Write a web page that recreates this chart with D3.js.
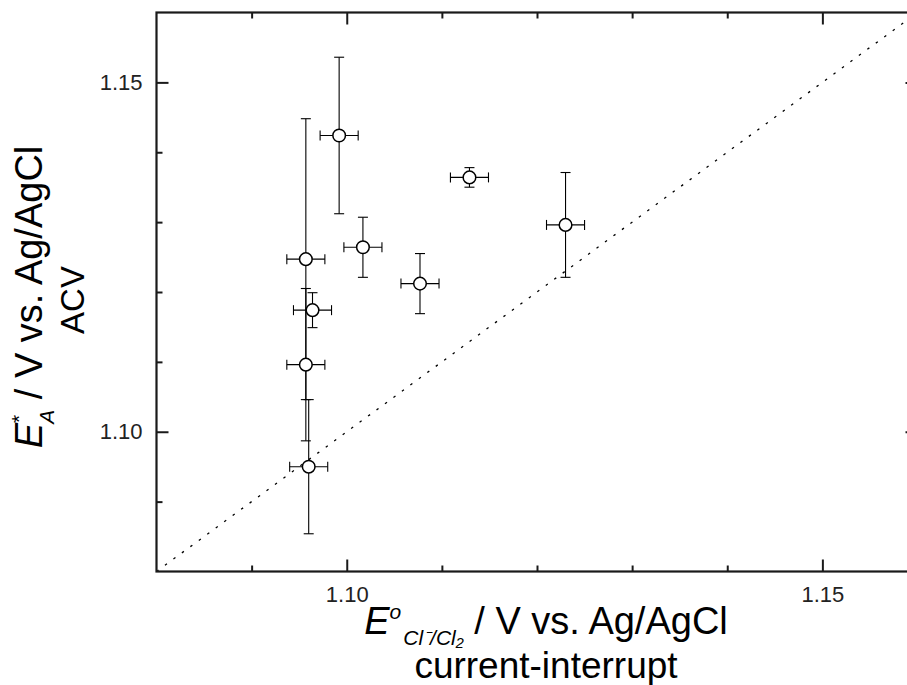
<!DOCTYPE html>
<html>
<head>
<meta charset="utf-8">
<script src="https://cdn.jsdelivr.net/npm/d3@7"></script>
<style>
  body { margin: 0; background: #fff; }
  svg { display: block; font-family: "Liberation Sans", Arial, sans-serif; }
</style>
</head>
<body>
<svg id="chart" width="907" height="685"></svg>
<script>
// ---- data ----
const xValues = [1.0992, 1.0957, 1.0957, 1.0960, 1.0964, 1.1017, 1.1077, 1.1129, 1.1230];
const yValues = [1.1424, 1.1247, 1.1096, 1.0950, 1.1174, 1.1264, 1.1212, 1.1364, 1.1296];
const yErrors = [0.0112, 0.0201, 0.0109, 0.0096, 0.0025, 0.0043, 0.0043, 0.0014, 0.0075];
const xErrors = [0.0020, 0.0020, 0.0020, 0.0020, 0.0020, 0.0020, 0.0020, 0.0020, 0.0020];
const axisDomain = [1.08, 1.16];
const majorTicks = [1.10, 1.15];
const minorTicks = [1.09, 1.11, 1.12, 1.13, 1.14];
const diagonal = [1.08, 1.16];

const points = xValues.map((v, i) => ({x: v, y: yValues[i], ex: xErrors[i], ey: yErrors[i]}));

const svg = d3.select("#chart");
const pL = 156.5, pR = 917.5, pT = 12.5, pB = 571.5;
const x = d3.scaleLinear().domain(axisDomain).range([pL, pR]);
const y = d3.scaleLinear().domain(axisDomain).range([pB, pT]);
const ink = "#1a1a1a";

// diagonal y = x
svg.append("line")
  .attr("x1", x(diagonal[0])).attr("y1", y(diagonal[0]))
  .attr("x2", x(diagonal[1])).attr("y2", y(diagonal[1]))
  .attr("stroke", "#000").attr("stroke-width", 1.3)
  .attr("stroke-dasharray", "2.5,8");

// axes
function styleAxis(g) {
  g.select(".domain").remove();
  g.selectAll(".tick line").attr("stroke", ink).attr("stroke-width", 2);
  g.selectAll(".tick text").attr("fill", "#222").style("font-size", "22px")
    .style("font-family", '"Liberation Sans", Arial, sans-serif');
}
const fmt = d3.format(".2f");
// bottom
svg.append("g").attr("transform", `translate(0,${pB})`)
  .call(d3.axisBottom(x).tickValues(majorTicks).tickFormat(fmt).tickSizeInner(-12).tickSizeOuter(0).tickPadding(15))
  .call(styleAxis);
svg.append("g").attr("transform", `translate(0,${pB})`)
  .call(d3.axisBottom(x).tickValues(minorTicks).tickFormat("").tickSizeInner(-6).tickSizeOuter(0))
  .call(styleAxis);
// top
svg.append("g").attr("transform", `translate(0,${pT})`)
  .call(d3.axisTop(x).tickValues(majorTicks).tickFormat("").tickSizeInner(-12).tickSizeOuter(0))
  .call(styleAxis);
svg.append("g").attr("transform", `translate(0,${pT})`)
  .call(d3.axisTop(x).tickValues(minorTicks).tickFormat("").tickSizeInner(-6).tickSizeOuter(0))
  .call(styleAxis);
// left
svg.append("g").attr("transform", `translate(${pL},0)`)
  .call(d3.axisLeft(y).tickValues(majorTicks).tickFormat(fmt).tickSizeInner(-12).tickSizeOuter(0).tickPadding(14))
  .call(styleAxis);
svg.append("g").attr("transform", `translate(${pL},0)`)
  .call(d3.axisLeft(y).tickValues(minorTicks).tickFormat("").tickSizeInner(-6).tickSizeOuter(0))
  .call(styleAxis);
// right
svg.append("g").attr("transform", `translate(${pR},0)`)
  .call(d3.axisRight(y).tickValues(majorTicks).tickFormat("").tickSizeInner(-12).tickSizeOuter(0))
  .call(styleAxis);
svg.append("g").attr("transform", `translate(${pR},0)`)
  .call(d3.axisRight(y).tickValues(minorTicks).tickFormat("").tickSizeInner(-6).tickSizeOuter(0))
  .call(styleAxis);

// frame
svg.append("rect")
  .attr("x", pL).attr("y", pT)
  .attr("width", pR - pL).attr("height", pB - pT)
  .attr("fill", "none").attr("stroke", ink).attr("stroke-width", 2.2);

// error bars
const cap = 5;
const eb = svg.append("g").attr("stroke", "#000").attr("stroke-width", 1.1).attr("fill", "none");
points.forEach(p => {
  const cx = x(p.x), cy = y(p.y);
  const y1 = y(p.y + p.ey), y2 = y(p.y - p.ey);
  const x1 = x(p.x - p.ex), x2 = x(p.x + p.ex);
  eb.append("line").attr("x1", cx).attr("x2", cx).attr("y1", y1).attr("y2", y2);
  eb.append("line").attr("x1", cx - cap).attr("x2", cx + cap).attr("y1", y1).attr("y2", y1);
  eb.append("line").attr("x1", cx - cap).attr("x2", cx + cap).attr("y1", y2).attr("y2", y2);
  eb.append("line").attr("x1", x1).attr("x2", x2).attr("y1", cy).attr("y2", cy);
  eb.append("line").attr("x1", x1).attr("x2", x1).attr("y1", cy - cap).attr("y2", cy + cap);
  eb.append("line").attr("x1", x2).attr("x2", x2).attr("y1", cy - cap).attr("y2", cy + cap);
});

// markers
svg.append("g").selectAll("circle").data(points).join("circle")
  .attr("cx", d => x(d.x)).attr("cy", d => y(d.y)).attr("r", 6.3)
  .attr("fill", "#fff").attr("stroke", "#000").attr("stroke-width", 1.5);

// x title
const xt = svg.append("text").attr("x", 546).attr("y", 634)
  .attr("text-anchor", "middle").attr("fill", "#000").style("font-size", "38px");
xt.append("tspan").style("font-style", "italic").text("E");
xt.append("tspan").attr("dy", -15).style("font-size", "21px").style("font-style", "italic").text("o");
xt.append("tspan").attr("dy", 26).attr("dx", 2).style("font-size", "21px").style("font-style", "italic").text("Cl⁻/Cl₂");
xt.append("tspan").attr("dy", -11).text(" / V vs. Ag/AgCl");
svg.append("text").attr("x", 546).attr("y", 678)
  .attr("text-anchor", "middle").attr("fill", "#000").style("font-size", "37px")
  .text("current-interrupt");

// y title
const yt = svg.append("text").attr("transform", "translate(42,297) rotate(-90)")
  .attr("text-anchor", "middle").attr("fill", "#000").style("font-size", "38px");
yt.append("tspan").style("font-style", "italic").text("E");
yt.append("tspan").attr("dy", -16).style("font-size", "21px").text("*");
yt.append("tspan").attr("dx", -9).attr("dy", 28).style("font-size", "21px").style("font-style", "italic").text("A");
yt.append("tspan").attr("dy", -12).text(" / V vs. Ag/AgCl");
svg.append("text").attr("transform", "translate(84,300) rotate(-90)")
  .attr("text-anchor", "middle").attr("fill", "#000").style("font-size", "33px")
  .text("ACV");
</script>
</body>
</html>
